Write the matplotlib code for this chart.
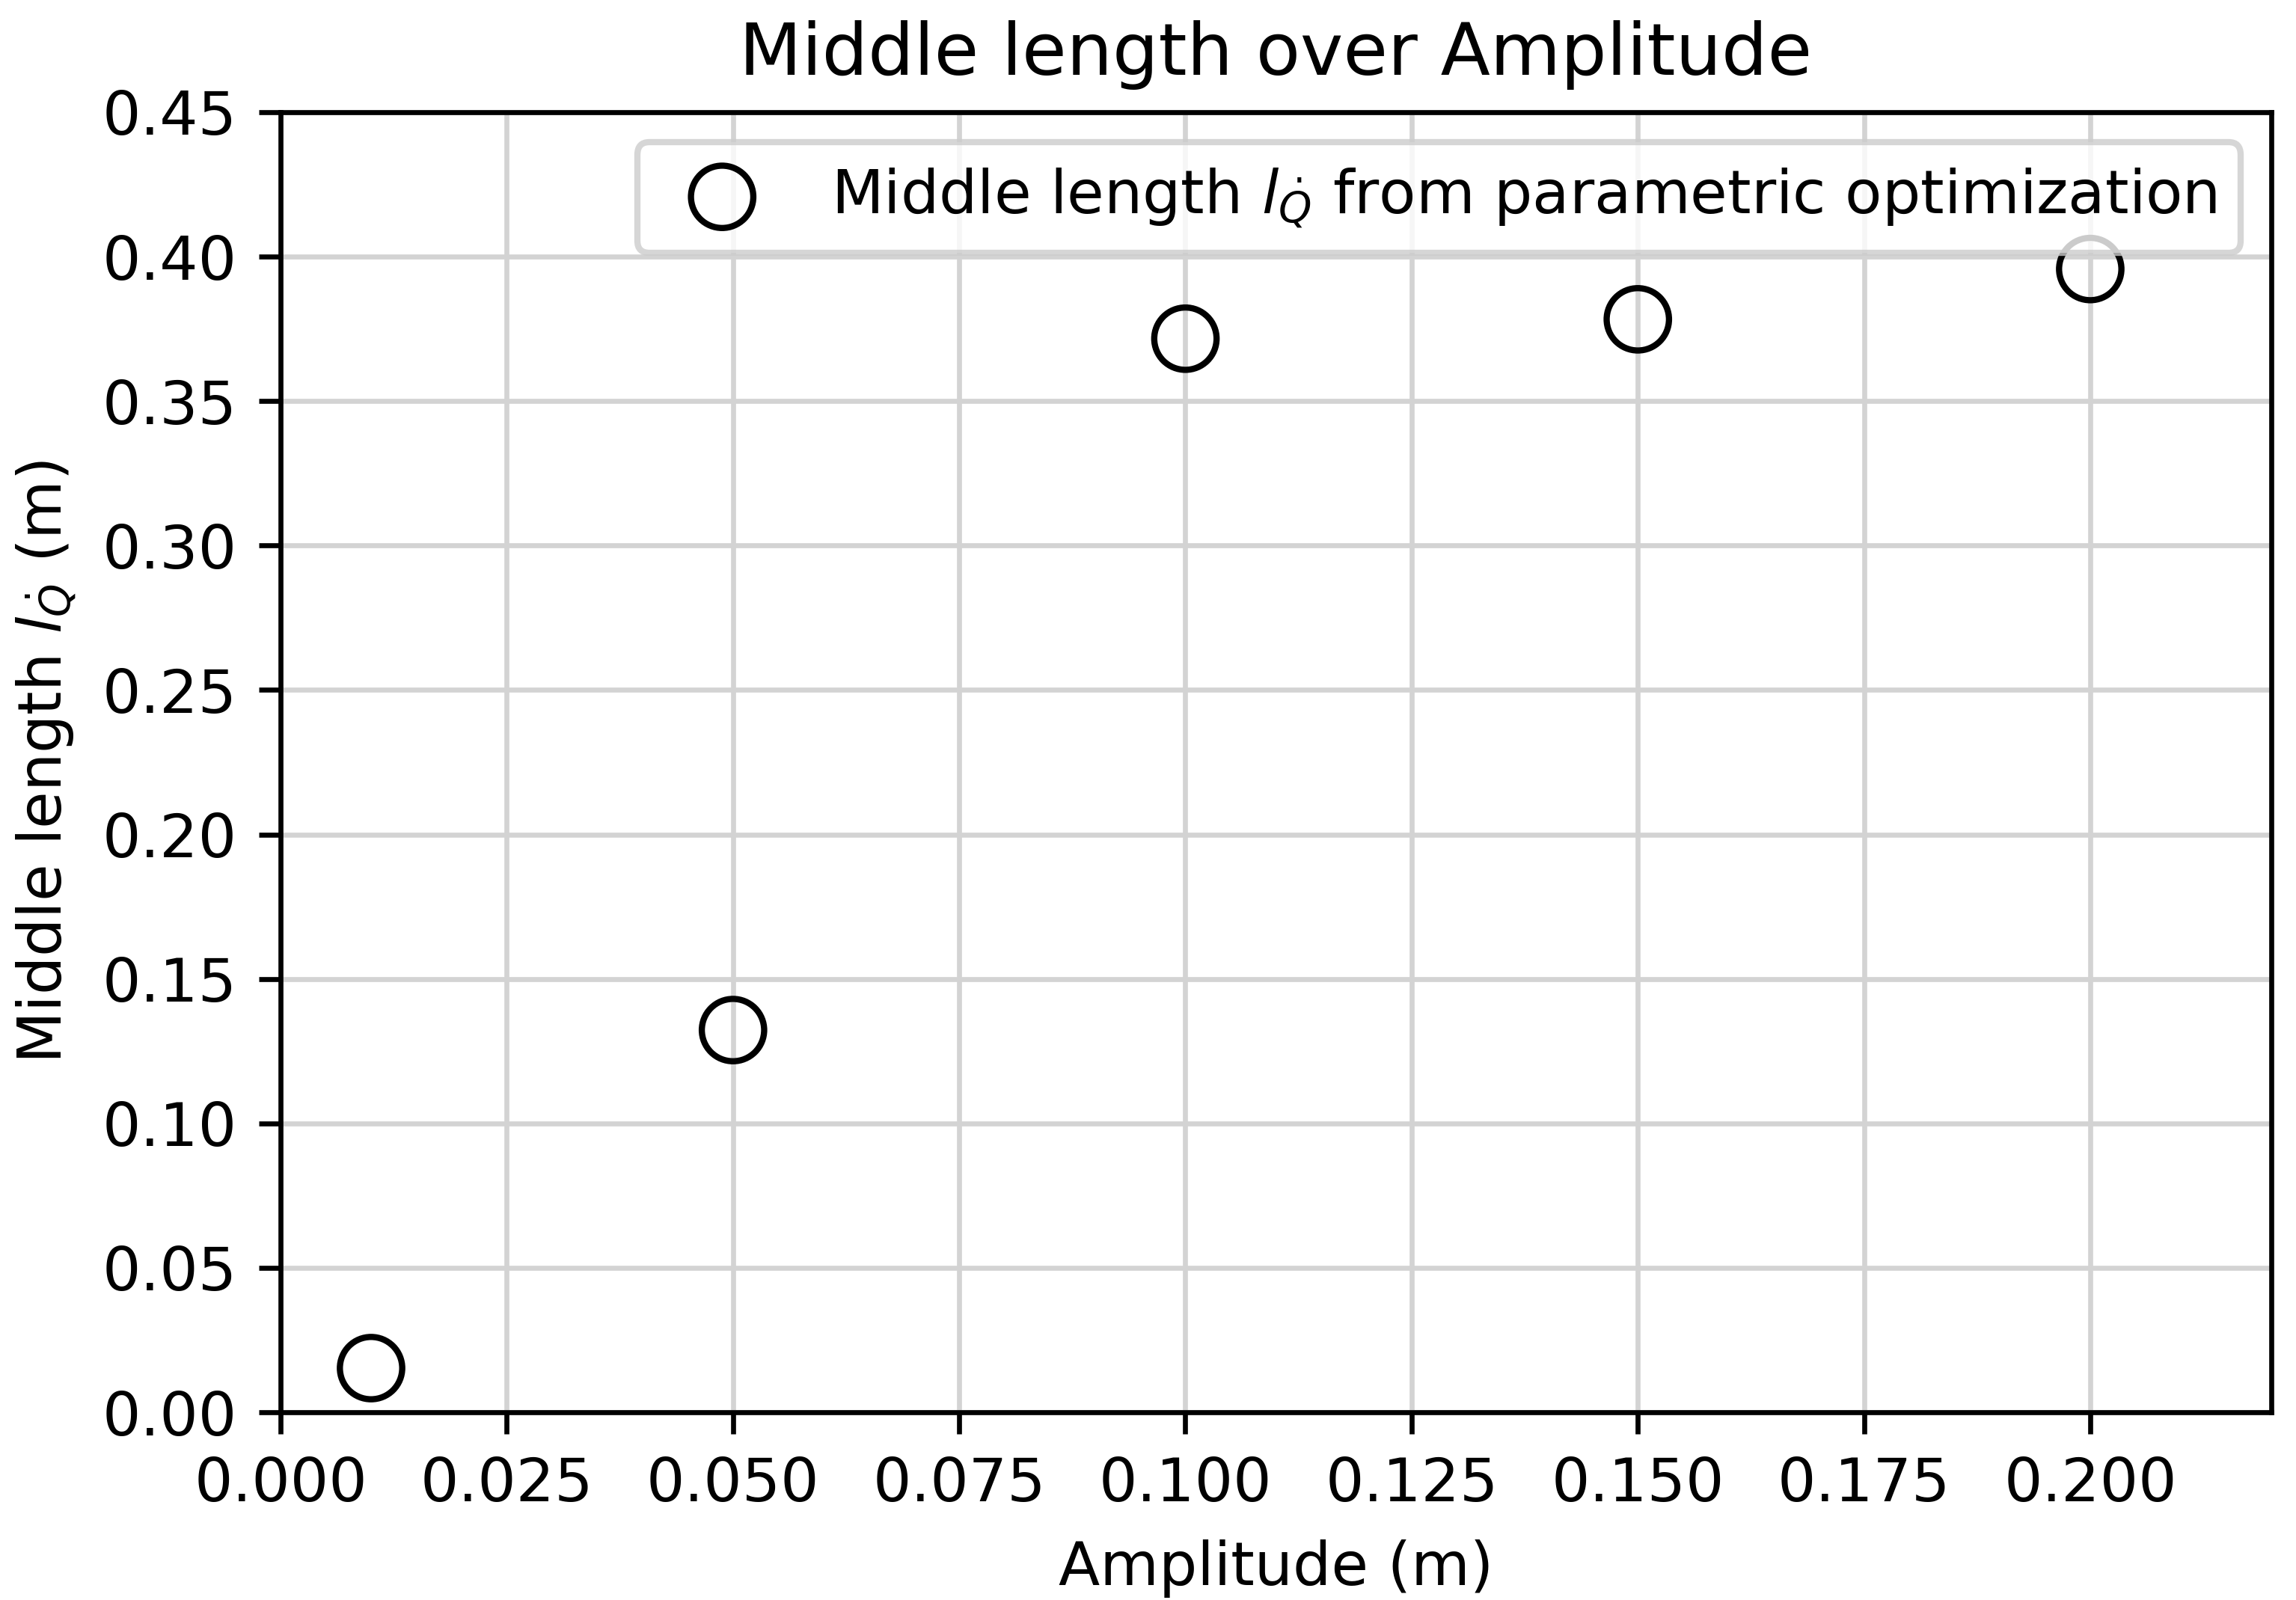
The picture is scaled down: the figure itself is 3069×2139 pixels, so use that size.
import matplotlib
matplotlib.use("Agg")
import matplotlib.pyplot as plt

# amplitude (m) vs middle length from parametric optimization (m)
amplitudes = [0.01, 0.05, 0.10, 0.15, 0.20]
middle_lengths = [0.0153, 0.1323, 0.3716, 0.3783, 0.3957]

plt.rcParams['font.size'] = 9.7

fig, ax = plt.subplots(figsize=(3069 / 600, 2139 / 600), dpi=600)
fig.subplots_adjust(left=0.1222, right=0.9892, top=0.9299, bottom=0.1173)

ax.scatter(amplitudes, middle_lengths, s=100, facecolors='none', edgecolors='k',
           linewidths=1.0, zorder=3,
           label=r"Middle length $l_{\dot{Q}}$ from parametric optimization")

ax.set_xlim(0, 0.22)
ax.set_ylim(0, 0.45)
ax.set_xticks([0.0, 0.025, 0.05, 0.075, 0.1, 0.125, 0.15, 0.175, 0.2])
ax.set_xticklabels(["0.000", "0.025", "0.050", "0.075", "0.100", "0.125",
                    "0.150", "0.175", "0.200"])
ax.set_yticks([0.0, 0.05, 0.1, 0.15, 0.2, 0.25, 0.3, 0.35, 0.4, 0.45])
ax.set_yticklabels(["0.00", "0.05", "0.10", "0.15", "0.20", "0.25", "0.30",
                    "0.35", "0.40", "0.45"])

ax.set_xlabel("Amplitude (m)")
ax.set_ylabel(r"Middle length $l_{\dot{Q}}$ (m)")
ax.set_title("Middle length over Amplitude")
ax.grid(True, color='#d3d3d3', linewidth=0.8)
ax.set_axisbelow(True)
ax.legend(loc='upper right')

fig.savefig("out.png", dpi=600)
